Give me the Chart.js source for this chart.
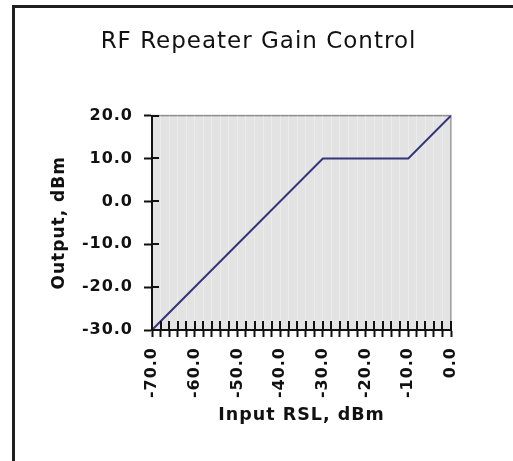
<!DOCTYPE html>
<html>
<head>
<meta charset="utf-8">
<script src="https://cdn.jsdelivr.net/npm/chart.js@4.4.1/dist/chart.umd.min.js"></script>
<style>
  body { margin: 0; background: #fff; }
  #wrap { position: relative; width: 513px; height: 461px; overflow: hidden; }
  #frame {
    position: absolute; left: 12px; top: 5px; width: 600px; height: 600px;
    border-left: 3px solid #1e1e1e; border-top: 3px solid #1e1e1e;
    pointer-events: none;
  }
  canvas { position: absolute; left: 0; top: 0; }
</style>
</head>
<body>
<div id="wrap">
  <canvas id="gainChart" width="513" height="461"></canvas>
  <div id="frame"></div>
</div>
<script>
// breakpoints of the repeater transfer curve
const inputRsl = [-70, -30, -10, 0];
const outputDbm = [-30, 10, 10, 20];

const xRange = [-70, 0];
const yRange = [-30, 20];
const xStep = 2;
const yStep = 10;

const chartTitle = "RF Repeater Gain Control";
const xTitle = "Input RSL, dBm";
const yTitle = "Output, dBm";

const FONT = "'DejaVu Sans', Verdana, sans-serif";

// plot background, grey top/right frame and the inner half of the tick marks
const plotDecor = {
  id: "plotDecor",
  beforeDraw(chart) {
    const { ctx, chartArea: a } = chart;
    ctx.letterSpacing = "1px";
    ctx.save();
    ctx.fillStyle = "#e3e3e3";
    ctx.fillRect(a.left, a.top, a.right - a.left, a.bottom - a.top);
    ctx.strokeStyle = "#8c8c8c";
    ctx.lineWidth = 1.5;
    ctx.strokeRect(a.left, a.top, a.right - a.left, a.bottom - a.top);
    ctx.restore();
  },
  afterDraw(chart) {
    const { ctx, chartArea: a } = chart;
    const xs = chart.scales.x, ys = chart.scales.y;
    ctx.save();
    ctx.strokeStyle = "#111";
    ctx.lineWidth = 2;
    ctx.beginPath();
    xs.ticks.forEach(t => {
      const px = Math.round(xs.getPixelForValue(t.value));
      ctx.moveTo(px, a.bottom);
      ctx.lineTo(px, a.bottom - 9);
    });
    ys.ticks.forEach(t => {
      const py = Math.round(ys.getPixelForValue(t.value));
      ctx.moveTo(a.left, py);
      ctx.lineTo(a.left + 7, py);
    });
    ctx.stroke();
    ctx.restore();
  }
};

const ctx = document.getElementById("gainChart").getContext("2d");
new Chart(ctx, {
  type: "line",
  data: {
    datasets: [{
      data: inputRsl.map((x, i) => ({ x: x, y: outputDbm[i] })),
      borderColor: "#34347a",
      borderWidth: 2,
      pointRadius: 0,
      tension: 0,
      fill: false
    }]
  },
  options: {
    responsive: false,
    animation: false,
    layout: { padding: { left: 66, right: 62, top: 10, bottom: 10 } },
    plugins: {
      legend: { display: false },
      tooltip: { enabled: false },
      title: {
        display: true,
        text: chartTitle,
        color: "#111",
        font: { family: FONT, size: 23, weight: "normal", lineHeight: 1.2 },
        padding: { top: 18, bottom: 60 }
      }
    },
    scales: {
      x: {
        type: "linear",
        min: xRange[0],
        max: xRange[1],
        afterFit(scale) { scale.height = 121; },
        border: { display: true, color: "#111", width: 2 },
        grid: {
          drawOnChartArea: true,
          color: "rgba(255,255,255,0.3)",
          tickColor: "#111",
          tickLength: 7,
          tickWidth: 2
        },
        ticks: {
          stepSize: xStep,
          autoSkip: false,
          minRotation: 90,
          maxRotation: 90,
          padding: 10,
          color: "#111",
          font: { family: FONT, size: 16, weight: "bold" },
          callback: v => (Math.round(v) % 10 === 0 ? v.toFixed(1) : "")
        },
        title: {
          display: true,
          text: xTitle,
          color: "#111",
          font: { family: FONT, size: 17.5, weight: "bold", lineHeight: 1.2 },
          padding: { top: 0, bottom: 25.5 }
        }
      },
      y: {
        min: yRange[0],
        max: yRange[1],
        afterFit(scale) { scale.width = 86; },
        border: { display: true, color: "#111", width: 2 },
        grid: {
          drawOnChartArea: false,
          tickColor: "#111",
          tickLength: 8,
          tickWidth: 2
        },
        ticks: {
          stepSize: yStep,
          padding: 11,
          color: "#111",
          font: { family: FONT, size: 16, weight: "bold" },
          callback: v => v.toFixed(1)
        },
        title: {
          display: true,
          text: yTitle,
          color: "#111",
          font: { family: FONT, size: 17, weight: "bold", lineHeight: 1.2 },
          padding: { top: -17, bottom: 0 }
        }
      }
    }
  },
  plugins: [plotDecor]
});
</script>
</body>
</html>
